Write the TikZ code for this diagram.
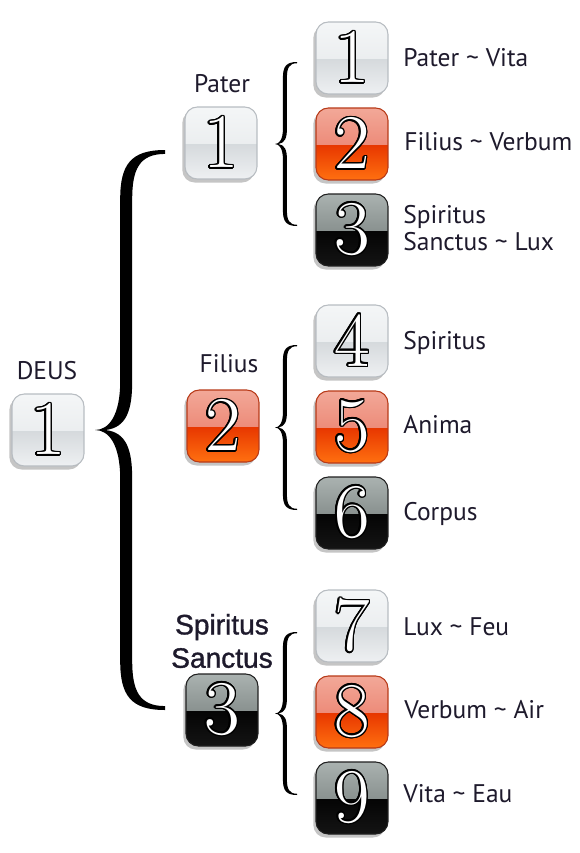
\documentclass[tikz,border=0pt]{standalone}
\usepackage{fontspec}
\newfontfamily\labelfont{PT Sans}
\newfontfamily\headfont[FakeBold=1.2]{Liberation Sans}
\usepackage{contour}
\contourlength{0.9pt}
\usetikzlibrary{shadows}

\definecolor{textdark}{HTML}{1E1A2C}
\definecolor{whitetop}{HTML}{F4F6F7}
\definecolor{whitemid}{HTML}{E3E6E8}
\definecolor{whitelow}{HTML}{D6DADD}
\definecolor{whitebot}{HTML}{EEF0F2}
\definecolor{whiteedge}{HTML}{B8BDC2}
\definecolor{redtop}{HTML}{F2A898}
\definecolor{redmid}{HTML}{E8705C}
\definecolor{redlow}{HTML}{E83800}
\definecolor{redbot}{HTML}{FF7010}
\definecolor{rededge}{HTML}{B83A18}
\definecolor{darktop}{HTML}{AAB2B0}
\definecolor{darkmid}{HTML}{6A7270}
\definecolor{darklow}{HTML}{050505}
\definecolor{darkbot}{HTML}{141414}
\definecolor{darkedge}{HTML}{202020}

% A calligraphic curly brace: tip x, end x, top y, bottom y, stem width.
\newcommand\curlybrace[5]{%
    \pgfmathsetmacro\bd{#2-#1}
    \pgfmathsetmacro\bs{#1+0.36*\bd}
    \pgfmathsetmacro\bi{\bs+#5}
    \pgfmathsetmacro\bm{(#3+#4)/2}
    \pgfmathsetmacro\bc{0.7*\bd}
    \pgfmathsetmacro\be{0.08*\bc}
    \fill[black]
        (#2,#3) .. controls ({\bs+0.15*\bd},#3) and (\bs,{#3+0.3*\bc}) .. (\bs,{#3+\bc})
        -- (\bs,{\bm-\bc}) .. controls (\bs,{\bm-0.3*\bc}) and ({#1+0.2*\bd},\bm) .. (#1,\bm)
        .. controls ({#1+0.2*\bd},\bm) and (\bs,{\bm+0.3*\bc}) .. (\bs,{\bm+\bc})
        -- (\bs,{#4-\bc}) .. controls (\bs,{#4-0.3*\bc}) and ({\bs+0.15*\bd},#4) .. (#2,#4)
        -- (#2,{#4-\be}) .. controls ({\bi+0.1*\bd},{#4-\be}) and (\bi,{#4-0.4*\bc}) .. (\bi,{#4-\bc})
        -- (\bi,{\bm+\bc}) .. controls (\bi,{\bm+0.4*\bc}) and ({#1+0.45*\bd},{\bm+0.05*\bc}) .. ({#1+0.15*\bd},\bm)
        .. controls ({#1+0.45*\bd},{\bm-0.05*\bc}) and (\bi,{\bm-0.4*\bc}) .. (\bi,{\bm-\bc})
        -- (\bi,{#3+\bc}) .. controls (\bi,{#3+0.4*\bc}) and ({\bi+0.1*\bd},{#3+\be}) .. (#2,{#3+\be})
        -- cycle;
}

\tikzset{
    tile/.style n args = {5}{
        rounded corners = 7pt,
        minimum width = 1.44cm,
        minimum height = 1.44cm,
        inner sep = 0pt,
        draw = #5,
        line width = 0.6pt,
        text = white,
        font = \fontsize{44}{44}\selectfont,
        drop shadow = {shadow xshift = -1.5pt, shadow yshift = -2pt, opacity = 0.45},
        path picture = {
            \fill[sharp corners, top color = #1, bottom color = #2]
                (path picture bounding box.north west) rectangle ([yshift = -1pt]path picture bounding box.east);
            \fill[sharp corners, top color = #3, bottom color = #4]
                ([yshift = -1pt]path picture bounding box.west) rectangle (path picture bounding box.south east);
        }
    },
    whitetile/.style = {tile = {whitetop}{whitemid}{whitelow}{whitebot}{whiteedge}},
    redtile/.style = {tile = {redtop}{redmid}{redlow}{redbot}{rededge}},
    darktile/.style = {tile = {darktop}{darkmid}{darklow}{darkbot}{darkedge}},
    lbl/.style = {
        font = \labelfont\fontsize{14.5}{15.5}\selectfont,
        text = textdark,
        anchor = west,
        align = left,
        inner sep = 0pt
    },
    head/.style = {
        font = \labelfont\fontsize{14.5}{15.5}\selectfont,
        text = textdark,
        inner sep = 0pt
    }
}

\begin{document}
\begin{tikzpicture}[x = 0.02cm, y = -0.02cm]

    \useasboundingbox[fill = white] (0,0) rectangle (580,853);

    % Braces.
    \curlybrace{95}{165}{150}{710}{12}
    \curlybrace{275}{297}{62}{226}{4}
    \curlybrace{275}{297}{345}{510}{4}
    \curlybrace{275}{297}{632}{795}{4}

    % The one.
    \node[whitetile] (deus) at (48,430) {\contour{black}{1}};
    \node[head] (deuslbl) at (47,371) {DEUS};

    % The three.
    \node[whitetile] (pater) at (221,143) {\contour{black}{1}};
    \node[redtile] (filius) at (223,426) {\contour{black}{2}};
    \node[darktile] (spiritus) at (222,710) {\contour{black}{3}};

    \node[head] (paterlbl) at (222,84) {Pater};
    \node[head] (filiuslbl) at (229,364) {Filius};
    \node[head, font = \headfont\fontsize{16}{19}\selectfont, align = center]
        (spirituslbl) at (222,641) {Spiritus\\Sanctus};

    % The nine.
    \node[whitetile] (n1) at (352,58) {\contour{black}{1}};
    \node[redtile] (n2) at (352,144) {\contour{black}{2}};
    \node[darktile] (n3) at (352,230) {\contour{black}{3}};
    \node[whitetile] (n4) at (352,341) {\contour{black}{4}};
    \node[redtile] (n5) at (352,427) {\contour{black}{5}};
    \node[darktile] (n6) at (352,513) {\contour{black}{6}};
    \node[whitetile] (n7) at (352,626) {\contour{black}{7}};
    \node[redtile] (n8) at (352,712) {\contour{black}{8}};
    \node[darktile] (n9) at (352,798) {\contour{black}{9}};

    % Their names.
    \node[lbl] (l1) at (403,58) {Pater \textasciitilde{} Vita};
    \node[lbl] (l2) at (404,142) {Filius \textasciitilde{} Verbum};
    \node[lbl] (l3) at (403,228) {Spiritus\\Sanctus \textasciitilde{} Lux};
    \node[lbl] (l4) at (403,343) {Spiritus};
    \node[lbl] (l5) at (403,425) {Anima};
    \node[lbl] (l6) at (403,514) {Corpus};
    \node[lbl] (l7) at (403,627) {Lux \textasciitilde{} Feu};
    \node[lbl] (l8) at (404,710) {Verbum \textasciitilde{} Air};
    \node[lbl] (l9) at (403,794) {Vita \textasciitilde{} Eau};

\end{tikzpicture}
\end{document}
